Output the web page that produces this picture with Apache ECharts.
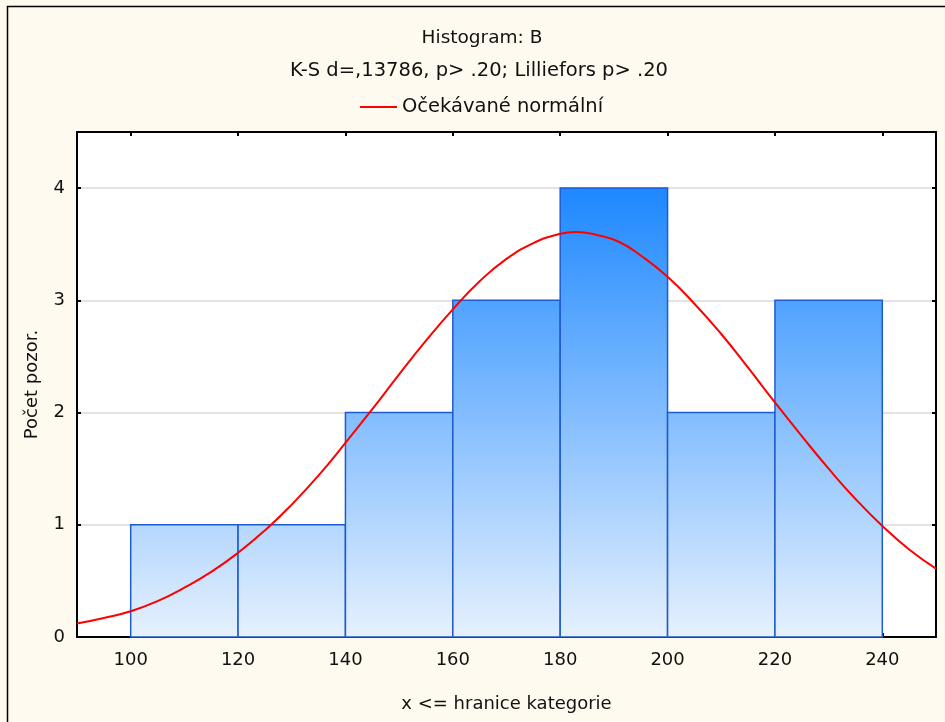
<!DOCTYPE html>
<html>
<head>
<meta charset="utf-8">
<script src="https://cdn.jsdelivr.net/npm/echarts@6/dist/echarts.min.js"></script>
<style>
html,body{margin:0;padding:0;background:#fffaf0;}
#c{width:945px;height:722px;}
</style>
</head>
<body>
<div id="c"></div>
<script>
// Histogram bins (upper bound "x <= hranice kategorie")
var binStarts = [100, 120, 140, 160, 180, 200, 220];
var binEnds   = [120, 140, 160, 180, 200, 220, 240];
var counts    = [1, 1, 2, 3, 4, 2, 3];
// Expected normal curve
var curveX = [90,95,100,105,110,115,120,125,130,135,140,145,150,155,160,165,170,175,179,183,187,191,195,200,205,210,215,220,225,230,235,240,245,250];
var curveY = [0.12,0.17,0.23,0.32,0.44,0.58,0.75,0.95,1.18,1.44,1.73,2.03,2.34,2.64,2.92,3.17,3.37,3.51,3.58,3.61,3.58,3.52,3.40,3.21,2.97,2.70,2.40,2.09,1.79,1.50,1.23,0.99,0.78,0.61];
var xTicks = [100, 120, 140, 160, 180, 200, 220, 240];
var yTicks = [0, 1, 2, 3, 4];

var titleText = 'Histogram: B';
var subText = 'K-S d=,13786, p> .20; Lilliefors p> .20';
var legendName = 'Očekávané normální';

var FONT = '"DejaVu Sans", "Liberation Sans", sans-serif';
var chart = echarts.init(document.getElementById('c'), null, {renderer: 'canvas'});

var histData = binStarts.map(function (s, i) { return [s, binEnds[i], counts[i]]; });
var curveData = curveX.map(function (x, i) { return [x, curveY[i]]; });

chart.setOption({
  backgroundColor: '#fffaf0',
  animation: false,
  legend: {
    top: 92, left: 355,
    itemWidth: 37, itemHeight: 2, itemGap: 12,
    icon: 'rect',
    textStyle: {fontFamily: FONT, fontSize: 19.5, color: '#111'},
    data: [{name: legendName, icon: 'rect'}]
  },
  grid: {left: 77, top: 132, right: 9, bottom: 85, containLabel: false, show: true, backgroundColor: '#ffffff', borderWidth: 0},
  xAxis: [{
    type: 'value', min: 90, max: 250, position: 'bottom',
    name: 'x <= hranice kategorie', nameLocation: 'middle', nameGap: 58,
    nameTextStyle: {fontFamily: FONT, fontSize: 18, color: '#111'},
    axisLine: {show: true, onZero: false, lineStyle: {color: '#000', width: 2}},
    axisTick: {show: true, inside: true, length: 4, customValues: xTicks, lineStyle: {color: '#000', width: 2}},
    axisLabel: {customValues: xTicks, margin: 14, fontFamily: FONT, fontSize: 18, color: '#111'},
    splitLine: {show: false}
  }, {
    type: 'value', min: 90, max: 250, position: 'top',
    axisLine: {show: true, onZero: false, lineStyle: {color: '#000', width: 2}},
    axisTick: {show: true, inside: true, length: 4, customValues: xTicks, lineStyle: {color: '#000', width: 2}},
    axisLabel: {show: false},
    splitLine: {show: false}
  }],
  yAxis: [{
    type: 'value', min: 0, max: 4.5, interval: 1, position: 'left',
    name: 'Počet pozor.', nameLocation: 'middle', nameGap: 36, nameRotate: 90,
    nameTextStyle: {fontFamily: FONT, fontSize: 18, color: '#111'},
    axisLine: {show: true, onZero: false, lineStyle: {color: '#000', width: 2}},
    axisTick: {show: true, inside: true, length: 4, customValues: yTicks, lineStyle: {color: '#000', width: 2}},
    axisLabel: {customValues: yTicks, margin: 12, fontFamily: FONT, fontSize: 18, color: '#111'},
    splitLine: {show: true, lineStyle: {color: '#e3e3e3', width: 2}}
  }, {
    type: 'value', min: 0, max: 4.5, interval: 1, position: 'right',
    axisLine: {show: true, onZero: false, lineStyle: {color: '#000', width: 2}},
    axisTick: {show: true, inside: true, length: 4, customValues: yTicks, lineStyle: {color: '#000', width: 2}},
    axisLabel: {show: false},
    splitLine: {show: false}
  }],
  graphic: [{
    type: 'rect', z: 100, silent: true,
    shape: {x: 7.5, y: 6.5, width: 960, height: 760},
    style: {fill: null, stroke: '#000', lineWidth: 1.5}
  }, {
    type: 'text', x: 482, y: 38, silent: true,
    style: {text: titleText, font: '18.5px ' + FONT, fill: '#111', textAlign: 'center', textVerticalAlign: 'middle'}
  }, {
    type: 'text', x: 479, y: 71, silent: true,
    style: {text: subText, font: '19.5px ' + FONT, fill: '#111', textAlign: 'center', textVerticalAlign: 'middle'}
  }],
  series: [{
    type: 'custom',
    name: 'hist',
    xAxisIndex: 0, yAxisIndex: 0,
    data: histData,
    encode: {x: [0, 1], y: 2},
    z: 2,
    renderItem: function (params, api) {
      var p0 = api.coord([api.value(0), api.value(2)]);
      var p1 = api.coord([api.value(1), 0]);
      var yTop = api.coord([0, 4])[1];
      var yBot = api.coord([0, 0])[1];
      var grad = new echarts.graphic.LinearGradient(0, yTop, 0, yBot, [
        {offset: 0, color: '#1e88ff'},
        {offset: 1, color: '#e6f1fd'}
      ], true);
      return {
        type: 'rect',
        shape: {x: p0[0], y: p0[1], width: p1[0] - p0[0], height: p1[1] - p0[1]},
        style: {fill: grad, stroke: '#1f5bd0', lineWidth: 1.5}
      };
    }
  }, {
    type: 'line',
    name: legendName,
    xAxisIndex: 0, yAxisIndex: 0,
    data: curveData,
    smooth: true,
    showSymbol: false,
    symbol: 'none',
    z: 5,
    lineStyle: {color: '#ff0000', width: 2},
    itemStyle: {color: '#ff0000'}
  }]
});
</script>
</body>
</html>
